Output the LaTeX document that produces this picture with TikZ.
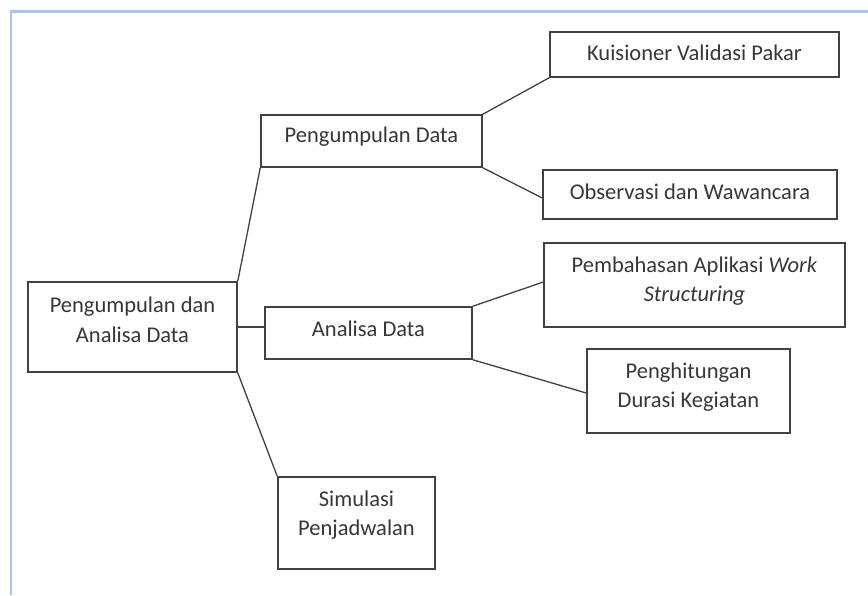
\documentclass[tikz,border=0pt]{standalone}
\usepackage{fontspec}
\setmainfont{Carlito}
\definecolor{framecol}{RGB}{168,195,228}
\definecolor{linecol}{RGB}{65,65,65}
\definecolor{txtcol}{RGB}{55,55,55}
\tikzset{
  box/.style={draw=linecol, line width=1.5pt, fill=white, inner sep=0pt},
  txt/.style={text=txtcol, align=center, inner sep=0pt, font=\fontsize{22.5}{29.5}\selectfont},
  conn/.style={draw=linecol, line width=1.3pt},
  frameline/.style={draw=framecol, line width=2.6pt}
}
\begin{document}
\begin{tikzpicture}[x=1pt,y=-1pt]
\useasboundingbox (0,0) rectangle (868,595);
\fill[white] (0,0) rectangle (868,595);
\draw[frameline] (11,595) -- (11,11.5) -- (868,11.5);

% boxes
\node[box, minimum width=289pt, minimum height=45pt] (k) at (694.5,54.5) {};
\node[box, minimum width=221pt, minimum height=52pt] (pd) at (371.5,141) {};
\node[box, minimum width=294pt, minimum height=49pt] (o) at (690,194.5) {};
\node[box, minimum width=209pt, minimum height=90pt] (m) at (132.5,327) {};
\node[box, minimum width=207pt, minimum height=52pt] (a) at (368.5,333) {};
\node[box, minimum width=301pt, minimum height=84pt] (p) at (694.5,285) {};
\node[box, minimum width=203pt, minimum height=84pt] (h) at (688.5,391) {};
\node[box, minimum width=157pt, minimum height=92pt] (s) at (356.5,523) {};

% texts
\node[txt] (kt) at (694.5,53) {Kuisioner Validasi Pakar};
\node[txt] (pdt) at (371.5,137) {Pengumpulan Data};
\node[txt] (ot) at (690,192) {Observasi dan Wawancara};
\node[txt] (mt) at (132.5,320) {Pengumpulan dan\\Analisa Data};
\node[txt] (at) at (368.5,329) {Analisa Data};
\node[txt] (pt) at (694.5,281) {Pembahasan Aplikasi \textit{Work}\\\textit{Structuring}};
\node[txt] (ht) at (688.5,387) {Penghitungan\\Durasi Kegiatan};
\node[txt] (st) at (356.5,515) {Simulasi\\Penjadwalan};

% connectors
\draw[conn] (k.south west) -- (pd.north east);
\draw[conn] (pd.south east) -- ([yshift=-3.5pt]o.west);
\draw[conn] (pd.south west) -- (m.north east);
\draw[conn] (m.east) -- (m.east -| a.west);
\draw[conn] (m.south east) -- (s.north west);
\draw[conn] (a.north east) -- ([yshift=3pt]p.west);
\draw[conn] (a.south east) -- ([yshift=-2pt]h.west);
\end{tikzpicture}
\end{document}
